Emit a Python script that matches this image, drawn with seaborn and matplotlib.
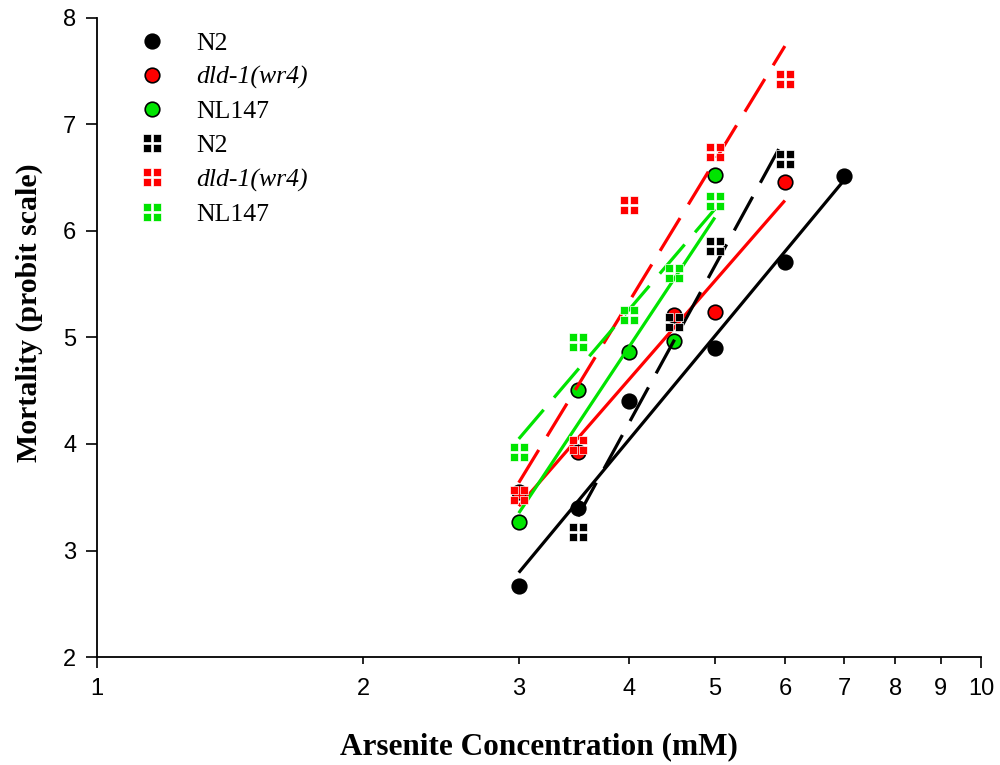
import numpy as np
import matplotlib
matplotlib.use("Agg")
import matplotlib.pyplot as plt
import seaborn as sns
from matplotlib.path import Path
from matplotlib.lines import Line2D
from matplotlib.ticker import LogLocator, FuncFormatter, FixedLocator

sns.set_theme(style="ticks")
plt.rcParams["font.family"] = ["Liberation Sans", "DejaVu Sans"]

# ***** data (probit mortality vs arsenite mM) ***** #
n2_x = [3, 3.5, 4, 5, 6, 7]
n2_y = [2.67, 3.40, 4.40, 4.90, 5.71, 6.51]
dld_x = [3, 3.5, 4.5, 5, 6]
dld_y = [3.55, 3.92, 5.21, 5.24, 6.46]
nl_x = [3, 3.5, 4, 4.5, 5]
nl_y = [3.27, 4.51, 4.86, 4.97, 6.52]

n2b_x = [3.5, 4.5, 5, 6]
n2b_y = [3.17, 5.14, 5.86, 6.67]
dldb_x = [3, 3.5, 4, 5, 6]
dldb_y = [3.52, 3.99, 6.24, 6.74, 7.42]
nlb_x = [3, 3.5, 4, 4.5, 5]
nlb_y = [3.92, 4.96, 5.21, 5.60, 6.28]

labels = ["N2", "dld-1(wr4)", "NL147"]
colors = ["black", "#ff0000", "#00e400"]

# four-tile square marker
tiles = []
for cx, cy in [(-1, -1), (0.1, -1), (-1, 0.1), (0.1, 0.1)]:
    tiles.append(Path.unit_rectangle().transformed(
        matplotlib.transforms.Affine2D().scale(0.9).translate(cx, cy)))
tile_marker = Path.make_compound_path(*tiles)

fig, ax = plt.subplots(figsize=(10, 7.65), dpi=100)
fig.subplots_adjust(left=0.097, right=0.981, top=0.977, bottom=0.141)

circles = [(n2_x, n2_y), (dld_x, dld_y), (nl_x, nl_y)]
squares = [(n2b_x, n2b_y), (dldb_x, dldb_y), (nlb_x, nlb_y)]

for (x, y), c in zip(circles, colors):
    sns.scatterplot(x=x, y=y, ax=ax, color=c, s=110, edgecolor="black",
                    linewidth=1.2, zorder=3)
    sns.regplot(x=np.array(x, float), y=np.array(y, float), ax=ax, logx=True,
                ci=None, scatter=False, color=c,
                line_kws=dict(lw=2.3, zorder=4, solid_capstyle="butt"))

for (x, y), c in zip(squares, colors):
    sns.regplot(x=np.array(x, float), y=np.array(y, float), ax=ax, logx=True,
                ci=None, scatter=False, color=c,
                line_kws=dict(lw=2.3, zorder=4, dashes=(12, 5)))
    sns.scatterplot(x=x, y=y, ax=ax, color=c, marker=tile_marker, s=165,
                    edgecolor="white", linewidth=0.5, zorder=5)

ax.set_xscale("log")
ax.set_xlim(1, 10)
ax.set_ylim(2, 8)
ax.xaxis.set_major_locator(FixedLocator([1, 10]))
ax.xaxis.set_minor_locator(LogLocator(base=10, subs=np.arange(2, 10)))
intfmt = FuncFormatter(lambda v, p: f"{v:g}")
ax.xaxis.set_major_formatter(intfmt)
ax.xaxis.set_minor_formatter(intfmt)
ax.set_yticks(range(2, 9))
ax.tick_params(axis="both", which="major", direction="out", length=8,
               width=1.2, labelsize=17, color="black", labelcolor="black",
               pad=7)
ax.tick_params(axis="x", which="minor", direction="out", length=5,
               width=1.2, labelsize=17, color="black", labelcolor="black",
               pad=10)
ax.tick_params(axis="x", which="major", pad=7)
for s in ["top", "right"]:
    ax.spines[s].set_visible(False)
for s in ["left", "bottom"]:
    ax.spines[s].set_linewidth(1.3)
    ax.spines[s].set_color("black")

lab_font = dict(family=["Liberation Serif", "DejaVu Serif"], weight="bold",
                color="black")
ax.set_xlabel("Arsenite Concentration (mM)", labelpad=23, size=22.5, **lab_font)
ax.set_ylabel("Mortality (probit scale)", size=21.5, **lab_font)
ax.yaxis.set_label_coords(-0.061, 0.538)

handles = []
for c in colors:
    handles.append(Line2D([], [], ls="none", marker="o", ms=10.5,
                          mfc=c, mec="black", mew=1.2))
for c in colors:
    handles.append(Line2D([], [], ls="none", marker=tile_marker, ms=12.5,
                          mfc=c, mec="white", mew=0.5))
leg = ax.legend(handles, labels + labels, loc="upper left",
                bbox_to_anchor=(0.022, 1.014), frameon=False,
                handlelength=1.0, handletextpad=1.2, labelspacing=0.43,
                prop=dict(family=["Liberation Serif", "DejaVu Serif"],
                          size=18.5))
for i, t in enumerate(leg.get_texts()):
    t.set_color("black")
    if i % 3 == 1:
        t.set_style("italic")

fig.savefig("out.png", dpi=100)
